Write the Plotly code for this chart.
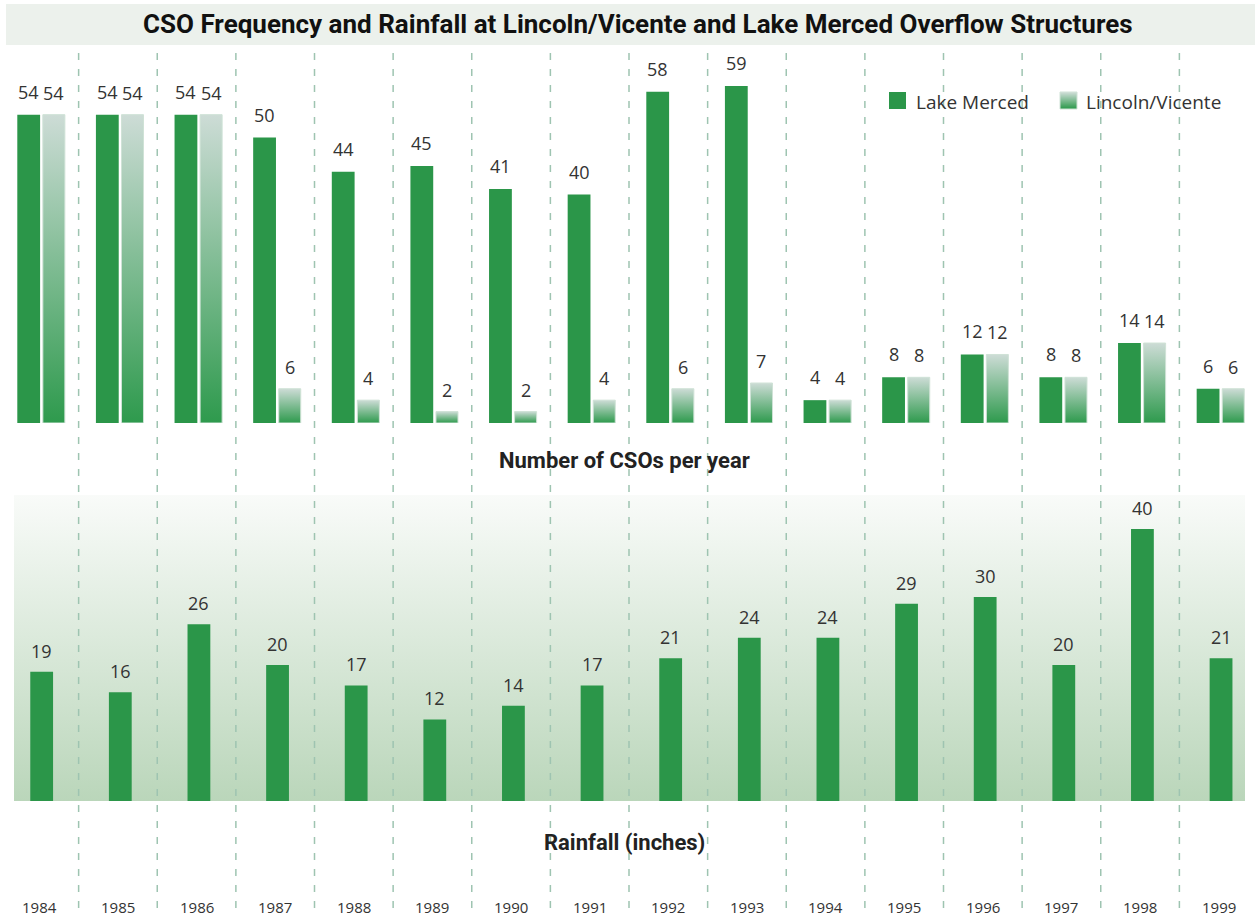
import numpy as np
import plotly.graph_objects as go

# ---- data -------------------------------------------------------------
years = [str(y) for y in range(1984, 2000)]
lake_merced = [54, 54, 54, 50, 44, 45, 41, 40, 58, 59, 4, 8, 12, 8, 14, 6]
lincoln_vicente = [54, 54, 54, 6, 4, 2, 2, 4, 6, 7, 4, 8, 12, 8, 14, 6]
rainfall = [19, 16, 26, 20, 17, 12, 14, 17, 21, 24, 24, 29, 30, 20, 40, 21]

# ---- styling ----------------------------------------------------------
W, H = 1258, 917
GREEN = "#2B9649"
PALE = "#CDDCD6"
EDGE = "#CFE2D6"
TEXT = "#333333"
LABEL_FONT = "Open Sans"
HEAD_FONT = "Roboto, sans-serif"

n = len(years)
idx = np.arange(n)
unit = W / n  # pixels per category


def py(p):
    """pixel row -> paper y"""
    return 1 - p / H


def px(p):
    """pixel column -> paper x"""
    return p / W


# panel geometry (pixel rows of baseline / top) and value scales
TOP_BASE, TOP_TOP, TOP_SCALE = 423, 53, 5.71
BOT_BASE, BOT_TOP, BOT_SCALE = 801, 495, 6.8
top_max = (TOP_BASE - TOP_TOP) / TOP_SCALE
bot_max = (BOT_BASE - BOT_TOP) / BOT_SCALE

LM_OFF, LM_W = -0.135, 0.29
LV_OFF, LV_W = 0.185, 0.28
RF_OFF, RF_W = 0.03, 0.29

fig = go.Figure()

# shaded background behind the rainfall bars
bx0 = -0.5 + 14 / unit
bx1 = -0.5 + 1245 / unit
fig.add_trace(go.Scatter(
    x=[bx0, bx1, bx1, bx0, bx0], y=[0, 0, bot_max, bot_max, 0],
    yaxis="y2", mode="none", fill="toself",
    fillgradient=dict(type="vertical",
                      colorscale=[[0, "#BAD6BA"], [1, "#F9FBF9"]]),
    hoverinfo="skip", showlegend=False,
))

# Lake Merced CSO bars
fig.add_trace(go.Bar(
    x=idx, y=lake_merced, width=LM_W, offset=LM_OFF - LM_W / 2,
    marker=dict(color=GREEN, line=dict(width=0)),
    name="Lake Merced", showlegend=False,
))

# Lincoln/Vicente CSO bars, each with its own vertical gradient
for i, v in enumerate(lincoln_vicente):
    x0 = i + LV_OFF - LV_W / 2
    x1 = i + LV_OFF + LV_W / 2
    fig.add_trace(go.Scatter(
        x=[x0, x1, x1, x0, x0], y=[0, 0, v, v, 0],
        mode="lines", line=dict(color=EDGE, width=1),
        fill="toself",
        fillgradient=dict(type="vertical",
                          colorscale=[[0, "#2E9A4D"], [1, PALE]]),
        hoverinfo="skip", showlegend=False,
    ))

# rainfall bars (on an overlaid axis so they sit above the shaded panel)
fig.add_trace(go.Bar(
    x=idx, y=rainfall, yaxis="y3", width=RF_W, offset=RF_OFF - RF_W / 2,
    marker=dict(color=GREEN, line=dict(width=0)),
    showlegend=False,
))

annotations = []
label_font = dict(family=LABEL_FONT, size=18, color=TEXT)

for i in range(n):
    annotations.append(dict(x=i + LM_OFF, y=lake_merced[i], xref="x", yref="y",
                            text=str(lake_merced[i]), showarrow=False,
                            yanchor="bottom", yshift=9, font=label_font))
    annotations.append(dict(x=i + LV_OFF, y=lincoln_vicente[i], xref="x", yref="y",
                            text=str(lincoln_vicente[i]), showarrow=False,
                            yanchor="bottom", yshift=8, font=label_font))
    annotations.append(dict(x=i + RF_OFF, y=rainfall[i], xref="x", yref="y3",
                            text=str(rainfall[i]), showarrow=False,
                            yanchor="bottom", yshift=7, font=label_font))
    annotations.append(dict(x=i, y=py(907), xref="x", yref="paper",
                            text=years[i], showarrow=False, yanchor="middle",
                            font=dict(family=LABEL_FONT, size=15, color=TEXT)))

# title and section headings
annotations.append(dict(x=px(638), y=py(24), xref="paper", yref="paper",
                        text="<b>CSO Frequency and Rainfall at Lincoln/Vicente and Lake Merced Overflow Structures</b>",
                        showarrow=False, yanchor="middle",
                        font=dict(family=HEAD_FONT, size=26, color="#111111")))
annotations.append(dict(x=px(624), y=py(461), xref="paper", yref="paper",
                        text="<b>Number of CSOs per year</b>", showarrow=False,
                        yanchor="middle",
                        font=dict(family=HEAD_FONT, size=22, color="#222222")))
annotations.append(dict(x=px(624), y=py(842), xref="paper", yref="paper",
                        text="<b>Rainfall (inches)</b>", showarrow=False,
                        yanchor="middle",
                        font=dict(family=HEAD_FONT, size=22, color="#222222")))

# legend entries
legend_font = dict(family=LABEL_FONT, size=19, color=TEXT)
annotations.append(dict(x=px(914), y=py(102), xref="paper", yref="paper",
                        text="Lake Merced", showarrow=False, xanchor="left",
                        yanchor="middle", font=legend_font))
annotations.append(dict(x=px(1084), y=py(102), xref="paper", yref="paper",
                        text="Lincoln/Vicente", showarrow=False, xanchor="left",
                        yanchor="middle", font=legend_font))

shapes = []
# title band
shapes.append(dict(type="rect", xref="paper", yref="paper",
                   x0=px(6), x1=px(1255), y0=py(45), y1=py(4),
                   fillcolor="#ECF1EC", line=dict(width=0), layer="below"))
# dashed separators between years
for k in range(n - 1):
    shapes.append(dict(type="line", xref="x", yref="paper",
                       x0=k + 0.5, x1=k + 0.5, y0=py(53), y1=0,
                       line=dict(color="#9EC4B1", width=1.5, dash="7px,9px"),
                       layer="above"))

# legend swatches
shapes.append(dict(type="rect", xref="paper", yref="paper",
                   x0=px(889), x1=px(906), y0=py(109), y1=py(92),
                   fillcolor=GREEN, line=dict(width=0)))


def mix(c1, c2, t):
    a = np.array([int(c1[j:j + 2], 16) for j in (1, 3, 5)])
    b = np.array([int(c2[j:j + 2], 16) for j in (1, 3, 5)])
    c = np.round(a + (b - a) * t).astype(int)
    return "#%02x%02x%02x" % tuple(c)


steps = 17
for s in range(steps):
    t = s / (steps - 1)
    shapes.append(dict(type="rect", xref="paper", yref="paper",
                       x0=px(1060), x1=px(1077),
                       y0=py(92 + s + 1), y1=py(92 + s),
                       fillcolor=mix(PALE, "#2E9A4D", t), line=dict(width=0)))
shapes.append(dict(type="rect", xref="paper", yref="paper",
                   x0=px(1060), x1=px(1077), y0=py(109), y1=py(92),
                   fillcolor="rgba(0,0,0,0)", line=dict(color=EDGE, width=1)))

fig.update_layout(
    width=W, height=H,
    margin=dict(l=0, r=0, t=0, b=0),
    paper_bgcolor="white", plot_bgcolor="white",
    barmode="overlay", showlegend=False,
    xaxis=dict(range=[-0.5, n - 0.5], domain=[0, 1], visible=False, fixedrange=True),
    yaxis=dict(range=[0, top_max], domain=[py(TOP_BASE), py(TOP_TOP)],
               visible=False, fixedrange=True),
    yaxis2=dict(range=[0, bot_max], domain=[py(BOT_BASE), py(BOT_TOP)],
                anchor="x", visible=False, fixedrange=True),
    yaxis3=dict(range=[0, bot_max], domain=[py(BOT_BASE), py(BOT_TOP)],
                anchor="x", overlaying="y2", visible=False, fixedrange=True),
    annotations=annotations,
    shapes=shapes,
)

fig.write_html("out.html")
